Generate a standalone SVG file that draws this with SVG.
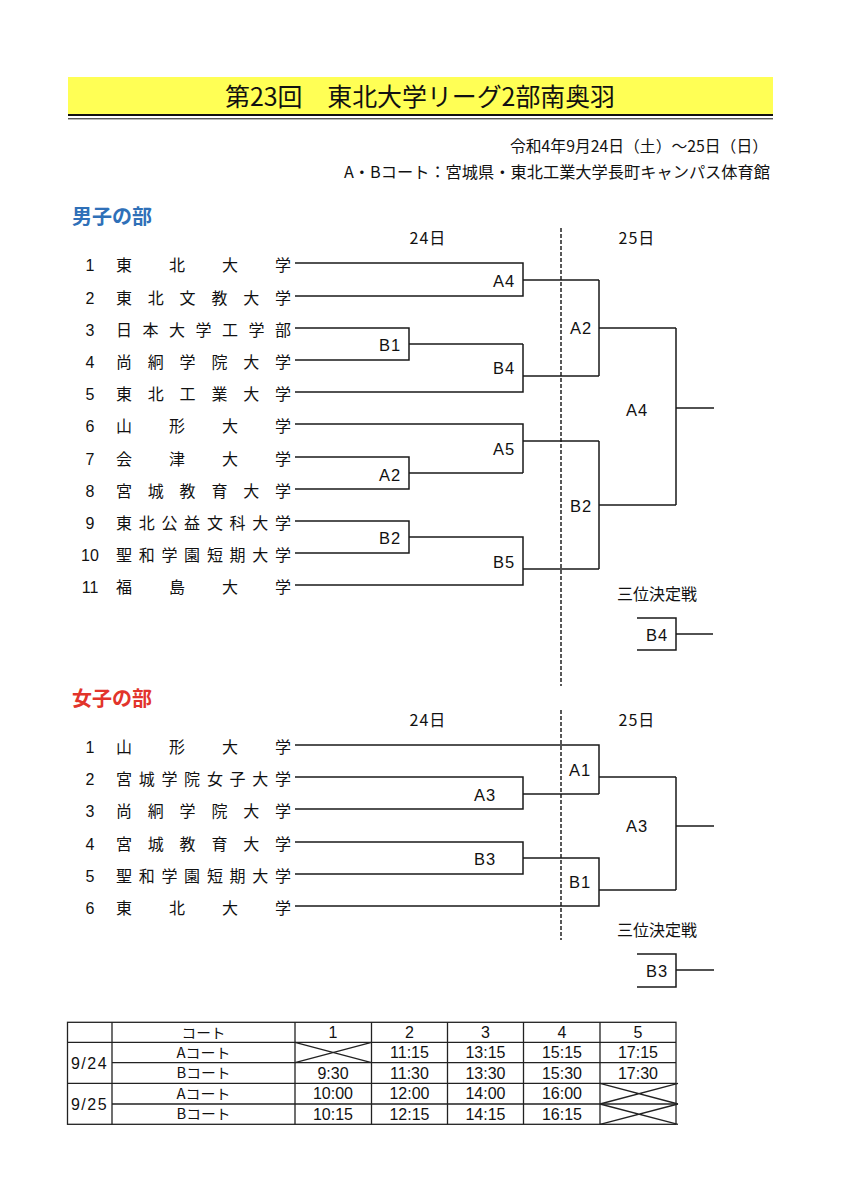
<svg xmlns="http://www.w3.org/2000/svg" width="855" height="1200" viewBox="0 0 855 1200">
<style>
.jp{font-family:"Noto Sans CJK JP","Noto Sans",sans-serif;fill:#111}
.la{font-family:"Liberation Sans",Arial,sans-serif;fill:#111}
.team{font-size:16px}
.num{font-size:16px;text-anchor:middle}
.lbl{font-size:16.5px;text-anchor:middle;letter-spacing:1px}
.day{font-size:16px;text-anchor:middle;letter-spacing:1px}
.br{fill:none;stroke:#1a1a1a;stroke-width:1.5}
.dash{fill:none;stroke:#222;stroke-width:1.5;stroke-dasharray:4 2}
.tb{fill:none;stroke:#222;stroke-width:1.3}
.tt{font-size:16px;text-anchor:middle}
.tj{font-size:14px;text-anchor:middle}
</style>
<rect width="855" height="1200" fill="#ffffff"/>
<g id="header">
<rect x="68" y="77" width="705" height="37" fill="#ffff55"/>
<line x1="68" y1="115" x2="773" y2="115" stroke="#111" stroke-width="2.2"/>
<line x1="68" y1="118.8" x2="773" y2="118.8" stroke="#111" stroke-width="1"/>
<text class="jp" x="225" y="106" font-size="25" textLength="390" lengthAdjust="spacingAndGlyphs">第23回　東北大学リーグ2部南奥羽</text>
<text class="jp" x="768" y="152" font-size="15.5" text-anchor="end" textLength="258" lengthAdjust="spacingAndGlyphs">令和4年9月24日（土）～25日（日）</text>
<text class="jp" x="770" y="178" font-size="16" text-anchor="end" textLength="426" lengthAdjust="spacingAndGlyphs">A・Bコート：宮城県・東北工業大学長町キャンパス体育館</text>
</g>

<g id="men-title"><text class="jp" x="72" y="224" font-size="20" font-weight="bold" style="fill:#2f70b8">男子の部</text></g>
<g id="men-days">
<text class="jp day" x="428" y="244">24日</text>
<text class="jp day" x="637" y="244">25日</text>
</g>
<g id="men-teams">
<g id="m1"><text class="la num" x="90" y="271">1</text><text class="jp team" x="116 169 222 275" y="271">東北大学</text></g>
<g id="m2"><text class="la num" x="90" y="304">2</text><text class="jp team" x="116 147.8 179.6 211.4 243.2 275" y="304">東北文教大学</text></g>
<g id="m3"><text class="la num" x="90" y="336">3</text><text class="jp team" x="116 142.5 169 195.5 222 248.5 275" y="336">日本大学工学部</text></g>
<g id="m4"><text class="la num" x="90" y="368">4</text><text class="jp team" x="116 147.8 179.6 211.4 243.2 275" y="368">尚絅学院大学</text></g>
<g id="m5"><text class="la num" x="90" y="400">5</text><text class="jp team" x="116 147.8 179.6 211.4 243.2 275" y="400">東北工業大学</text></g>
<g id="m6"><text class="la num" x="90" y="432">6</text><text class="jp team" x="116 169 222 275" y="432">山形大学</text></g>
<g id="m7"><text class="la num" x="90" y="465">7</text><text class="jp team" x="116 169 222 275" y="465">会津大学</text></g>
<g id="m8"><text class="la num" x="90" y="497">8</text><text class="jp team" x="116 147.8 179.6 211.4 243.2 275" y="497">宮城教育大学</text></g>
<g id="m9"><text class="la num" x="90" y="529">9</text><text class="jp team" x="116 138.7 161.4 184.1 206.9 229.6 252.3 275" y="529">東北公益文科大学</text></g>
<g id="m10"><text class="la num" x="90" y="561">10</text><text class="jp team" x="116 138.7 161.4 184.1 206.9 229.6 252.3 275" y="561">聖和学園短期大学</text></g>
<g id="m11"><text class="la num" x="90" y="593">11</text><text class="jp team" x="116 169 222 275" y="593">福島大学</text></g>
</g>
<g id="men-matches">
<text id="m-A4a" class="la lbl" x="504" y="287">A4</text>
<text id="m-B1" class="la lbl" x="390" y="351">B1</text>
<text id="m-B4" class="la lbl" x="504" y="374">B4</text>
<text id="m-A2b" class="la lbl" x="581" y="334">A2</text>
<text id="m-A4f" class="la lbl" x="637" y="416">A4</text>
<text id="m-A5" class="la lbl" x="504" y="455">A5</text>
<text id="m-A2a" class="la lbl" x="390" y="481">A2</text>
<text id="m-B2a" class="la lbl" x="390" y="544">B2</text>
<text id="m-B5" class="la lbl" x="504" y="568">B5</text>
<text id="m-B2b" class="la lbl" x="581" y="512">B2</text>
<text id="m-3rd" class="jp" x="657" y="600" font-size="16" text-anchor="middle">三位決定戦</text>
<text id="m-B4t" class="la lbl" x="657" y="641">B4</text>
</g>

<g id="women-title"><text class="jp" x="72" y="706" font-size="20" font-weight="bold" style="fill:#e2342b">女子の部</text></g>
<g id="women-days">
<text class="jp day" x="428" y="726">24日</text>
<text class="jp day" x="637" y="726">25日</text>
</g>
<g id="women-teams">
<g id="w1"><text class="la num" x="90" y="753">1</text><text class="jp team" x="116 169 222 275" y="753">山形大学</text></g>
<g id="w2"><text class="la num" x="90" y="785">2</text><text class="jp team" x="116 138.7 161.4 184.1 206.9 229.6 252.3 275" y="785">宮城学院女子大学</text></g>
<g id="w3"><text class="la num" x="90" y="817">3</text><text class="jp team" x="116 147.8 179.6 211.4 243.2 275" y="817">尚絅学院大学</text></g>
<g id="w4"><text class="la num" x="90" y="850">4</text><text class="jp team" x="116 147.8 179.6 211.4 243.2 275" y="850">宮城教育大学</text></g>
<g id="w5"><text class="la num" x="90" y="882">5</text><text class="jp team" x="116 138.7 161.4 184.1 206.9 229.6 252.3 275" y="882">聖和学園短期大学</text></g>
<g id="w6"><text class="la num" x="90" y="914">6</text><text class="jp team" x="116 169 222 275" y="914">東北大学</text></g>
</g>
<g id="women-matches">
<text id="w-A3a" class="la lbl" x="485" y="801">A3</text>
<text id="w-B3" class="la lbl" x="485" y="865">B3</text>
<text id="w-A1" class="la lbl" x="580" y="776">A1</text>
<text id="w-B1" class="la lbl" x="580" y="888">B1</text>
<text id="w-A3f" class="la lbl" x="637" y="832">A3</text>
<text id="w-3rd" class="jp" x="657" y="936" font-size="16" text-anchor="middle">三位決定戦</text>
<text id="w-B3t" class="la lbl" x="657" y="977">B3</text>
</g>

<g id="connectors">
<path class="dash" d="M561 228 V686"/>
<path class="dash" d="M561 710 V940"/>
<path class="br" d="M295 263 H523 V296 H295 M523 280 H599"/>
<path class="br" d="M295 328 H409 V360 H295 M409 344 H523"/>
<path class="br" d="M295 392 H523 V344 M523 376 H599"/>
<path class="br" d="M599 280 V376 M599 328 H676"/>
<path class="br" d="M295 424 H523 V473 M295 457 H409 V489 H295 M409 473 H523 M523 441 H599"/>
<path class="br" d="M295 521 H409 V553 H295 M409 537 H523 V585 H295 M523 569 H599"/>
<path class="br" d="M599 441 V569 M599 505 H676"/>
<path class="br" d="M676 328 V505 M676 408 H714"/>
<path class="br" d="M637 618 H676 V650 H637 M676 634 H713"/>
<path class="br" d="M295 745 H599 V794 M295 777 H523 V809 H295 M523 794 H599 M599 777 H676"/>
<path class="br" d="M295 842 H523 V874 H295 M523 858 H599 V906 H295 M599 890 H676"/>
<path class="br" d="M676 777 V890 M676 826 H714"/>
<path class="br" d="M637 954 H676 V987 H637 M676 970 H714"/>
</g>

<g id="schedule">
<rect class="tb" x="67.5" y="1022.3" width="608.5" height="102" stroke-width="1.8"/>
<path class="tb" d="M67.5 1042.3 H676 M112 1062.7 H676 M67.5 1083.3 H676 M112 1104 H676 M112 1022.3 V1124.3 M295 1022.3 V1124.3 M371.5 1022.3 V1124.3 M447.5 1022.3 V1124.3 M523.5 1022.3 V1124.3 M600 1022.3 V1124.3"/>
<path class="tb" stroke-width="1.8" d="M295 1042.3 L371.5 1062.7 M295 1062.7 L371.5 1042.3 M600 1083.3 L678 1104 M600 1104 L678 1083.3 M600 1104 L678 1124.3 M600 1124.3 L678 1104"/>
<text class="jp tj" x="203.5" y="1037.5" textLength="44" lengthAdjust="spacingAndGlyphs">コート</text>
<text class="la tt" x="333" y="1038">1</text>
<text class="la tt" x="409.5" y="1038">2</text>
<text class="la tt" x="485.5" y="1038">3</text>
<text class="la tt" x="562" y="1038">4</text>
<text class="la tt" x="638" y="1038">5</text>
<text class="la tt" x="89.5" y="1069" letter-spacing="1.5">9/24</text>
<text class="la tt" x="89.5" y="1110" letter-spacing="1.5">9/25</text>
<text class="jp tj" x="203.5" y="1057.5" textLength="54" lengthAdjust="spacingAndGlyphs">Aコート</text>
<text class="jp tj" x="203.5" y="1078" textLength="54" lengthAdjust="spacingAndGlyphs">Bコート</text>
<text class="jp tj" x="203.5" y="1098.5" textLength="54" lengthAdjust="spacingAndGlyphs">Aコート</text>
<text class="jp tj" x="203.5" y="1119" textLength="54" lengthAdjust="spacingAndGlyphs">Bコート</text>
<text class="la tt" x="409.5" y="1058">11:15</text>
<text class="la tt" x="485.5" y="1058">13:15</text>
<text class="la tt" x="562" y="1058">15:15</text>
<text class="la tt" x="638" y="1058">17:15</text>
<text class="la tt" x="333" y="1078.5">9:30</text>
<text class="la tt" x="409.5" y="1078.5">11:30</text>
<text class="la tt" x="485.5" y="1078.5">13:30</text>
<text class="la tt" x="562" y="1078.5">15:30</text>
<text class="la tt" x="638" y="1078.5">17:30</text>
<text class="la tt" x="333" y="1099">10:00</text>
<text class="la tt" x="409.5" y="1099">12:00</text>
<text class="la tt" x="485.5" y="1099">14:00</text>
<text class="la tt" x="562" y="1099">16:00</text>
<text class="la tt" x="333" y="1119.5">10:15</text>
<text class="la tt" x="409.5" y="1119.5">12:15</text>
<text class="la tt" x="485.5" y="1119.5">14:15</text>
<text class="la tt" x="562" y="1119.5">16:15</text>
</g>
</svg>
